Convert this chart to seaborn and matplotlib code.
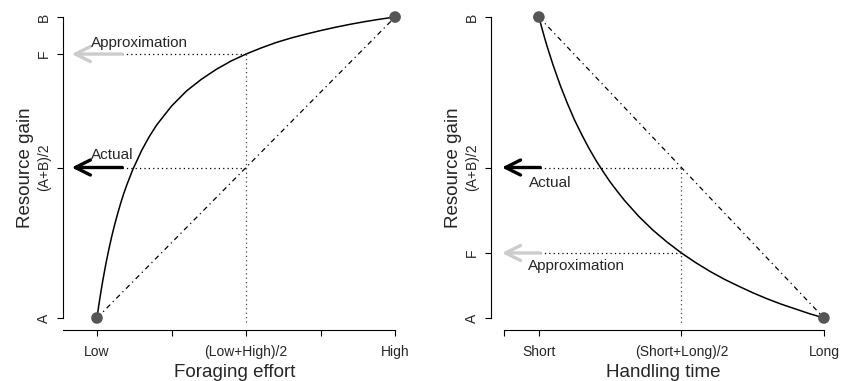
import matplotlib
matplotlib.use("Agg")
import matplotlib.pyplot as plt
import seaborn as sns
import pandas as pd

sns.set_theme(style="ticks")
plt.rcParams['font.family'] = ['Liberation Sans', 'DejaVu Sans']

# ---- data (x: 0 = Low/Short, 1 = High/Long; y: 0 = A, 1 = B)
left_x = [0, 0.005, 0.01, 0.015, 0.02, 0.03, 0.04, 0.05, 0.06, 0.07, 0.08, 0.09, 0.10, 0.12,
          0.15, 0.175, 0.20, 0.25, 0.30, 0.35, 0.40, 0.45, 0.50, 0.55, 0.60, 0.65, 0.70,
          0.75, 0.80, 0.85, 0.90, 0.95, 1.00]
left_y = [0, 0.035, 0.067, 0.098, 0.127, 0.181, 0.229, 0.273, 0.313, 0.349, 0.383, 0.414, 0.442, 0.493,
          0.557, 0.602, 0.641, 0.704, 0.754, 0.793, 0.826, 0.854, 0.877, 0.897, 0.915, 0.930, 0.943,
          0.955, 0.966, 0.976, 0.985, 0.993, 1.00]
right_x = [0, 0.01, 0.02, 0.03, 0.05, 0.075, 0.10, 0.125, 0.15, 0.175, 0.20, 0.225, 0.25, 0.275,
           0.30, 0.35, 0.40, 0.45, 0.50, 0.55, 0.60, 0.65, 0.70, 0.75, 0.80, 0.85, 0.90, 0.95, 1.00]
right_y = [1.00, 0.965, 0.931, 0.899, 0.840, 0.773, 0.713, 0.658, 0.610, 0.565, 0.524, 0.487, 0.452, 0.421,
           0.391, 0.338, 0.292, 0.252, 0.216, 0.184, 0.155, 0.129, 0.106, 0.084, 0.064, 0.046, 0.030, 0.014, 0]

left_F = 0.877
right_F = 0.216
mid_y = 0.5

left_xticks = [0, 0.25, 0.5, 0.75, 1]
left_xticklabels = ["Low", "", "(Low+High)/2", "", "High"]
right_xticks = [-0.123, 0, 0.5, 1]
right_xticklabels = ["", "Short", "(Short+Long)/2", "Long"]
left_yticks = [0, 0.5, left_F, 1]
left_yticklabels = ["A", "(A+B)/2", "F", "B"]
right_yticks = [0, right_F, 0.5, 1]
right_yticklabels = ["A", "F", "(A+B)/2", "B"]

fig = plt.figure(figsize=(8.47, 3.81), dpi=100)
axL = fig.add_axes([63/847, 51/381, 344/847, 325/381])
axR = fig.add_axes([491/847, 51/381, 344/847, 325/381])

PT_COLOR = "#555555"
GRAY = "#cccccc"

def style_axes(ax, xlim, xspine, yticks, yticklabels, xticks, xticklabels, xlabel):
    ax.set_xlim(*xlim)
    ax.set_ylim(-0.04, 1.04)
    for s in ["top", "right"]:
        ax.spines[s].set_visible(False)
    ax.spines["left"].set_bounds(0, 1)
    ax.spines["bottom"].set_bounds(*xspine)
    for s in ["left", "bottom"]:
        ax.spines[s].set_linewidth(0.8)
        ax.spines[s].set_color("black")
    ax.set_yticks(yticks)
    ax.set_yticklabels(yticklabels, rotation=90, va="center")
    ax.set_xticks(xticks)
    ax.set_xticklabels(xticklabels)
    ax.tick_params(axis="both", length=4.5, width=0.8, color="black", labelsize=10, pad=6)
    ax.tick_params(axis="y", pad=4)
    ax.set_xlabel(xlabel, fontsize=13.5, labelpad=4)
    ax.set_ylabel("Resource gain", fontsize=13.5, labelpad=2)
    ax.set_facecolor("white")

def arrow(ax, x0, x1, y, color):
    ax.annotate("", xy=(x1, y), xytext=(x0, y),
                arrowprops=dict(arrowstyle="->,head_length=0.9,head_width=0.45",
                                color=color, lw=2.4, shrinkA=0, shrinkB=0))

# ---- left panel
dfL = pd.DataFrame({"x": left_x, "y": left_y})
sns.lineplot(data=dfL, x="x", y="y", ax=axL, color="black", lw=1.1, sort=False)
sns.lineplot(x=[0, 1], y=[0, 1], ax=axL, color="black", lw=0.9, linestyle=(0, (4, 3, 1, 3)))
axL.plot([0.085, 0.5], [left_F, left_F], color="black", lw=0.9, ls=(0, (1, 2.5)))
axL.plot([0.085, 0.5], [mid_y, mid_y], color="black", lw=0.9, ls=(0, (1, 2.5)))
axL.plot([0.5, 0.5], [left_F, -0.02], color="#444444", lw=0.9, ls=(0, (1, 2.5)))
sns.scatterplot(x=[left_x[0], left_x[-1]], y=[left_y[0], left_y[-1]], ax=axL,
                color=PT_COLOR, s=70, edgecolor="none", zorder=5)
arrow(axL, 0.085, -0.085, left_F, GRAY)
arrow(axL, 0.085, -0.085, mid_y, "black")
axL.text(-0.02, 0.915, "Approximation", fontsize=11, va="center", ha="left")
axL.text(-0.02, 0.54, "Actual", fontsize=11, va="center", ha="left")
style_axes(axL, (-0.114, 1.04), (-0.114, 1), left_yticks, left_yticklabels,
           left_xticks, left_xticklabels, "Foraging effort")

# ---- right panel
dfR = pd.DataFrame({"x": right_x, "y": right_y})
sns.lineplot(data=dfR, x="x", y="y", ax=axR, color="black", lw=1.1, sort=False)
sns.lineplot(x=[0, 1], y=[1, 0], ax=axR, color="black", lw=0.9, linestyle=(0, (4, 3, 1, 3)))
axR.plot([0.005, 0.5], [right_F, right_F], color="black", lw=0.9, ls=(0, (1, 2.5)))
axR.plot([0.005, 0.5], [mid_y, mid_y], color="black", lw=0.9, ls=(0, (1, 2.5)))
axR.plot([0.5, 0.5], [mid_y, -0.02], color="#444444", lw=0.9, ls=(0, (1, 2.5)))
sns.scatterplot(x=[right_x[0], right_x[-1]], y=[right_y[0], right_y[-1]], ax=axR,
                color=PT_COLOR, s=70, edgecolor="none", zorder=5)
arrow(axR, 0.005, -0.13, right_F, GRAY)
arrow(axR, 0.005, -0.13, mid_y, "black")
axR.text(-0.04, 0.173, "Approximation", fontsize=11, va="center", ha="left")
axR.text(-0.035, 0.45, "Actual", fontsize=11, va="center", ha="left")
style_axes(axR, (-0.168, 1.039), (-0.123, 1), right_yticks, right_yticklabels,
           right_xticks, right_xticklabels, "Handling time")

fig.savefig("out.png", dpi=100, facecolor="white")
